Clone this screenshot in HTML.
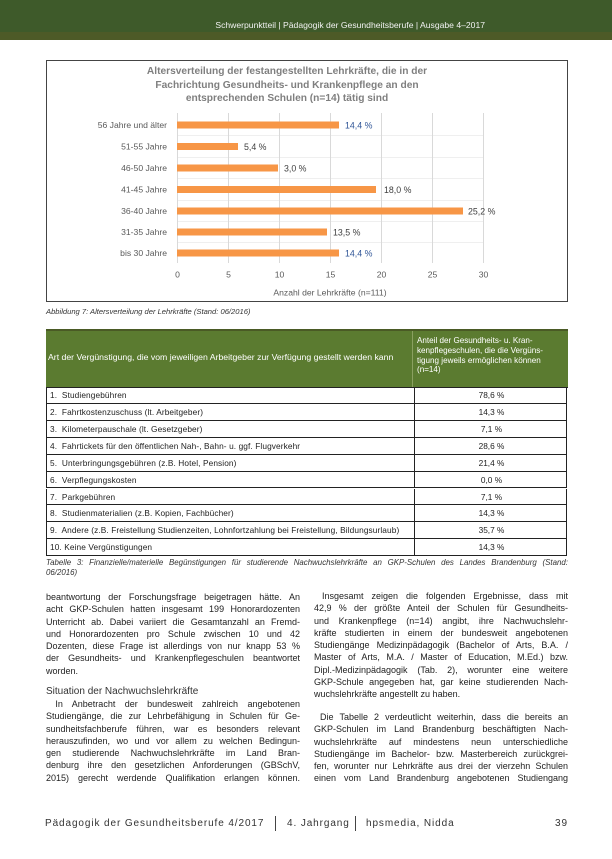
<!DOCTYPE html>
<html><head><meta charset="utf-8">
<style>
html,body{margin:0;padding:0;background:#fff;}
body{width:612px;height:859px;position:relative;overflow:hidden;font-family:"Liberation Sans",sans-serif;color:#222;}
.abs{position:absolute;}
.hdr{left:0;top:0;width:612px;height:32px;background:#3e5a2a;}
.hdr2{left:0;top:32px;width:612px;height:8px;background:#4d5a27;}
.hdrtxt{right:127px;top:19px;font-size:8.6px;color:#f2f2f2;white-space:nowrap;line-height:12px;}
.cap{font-style:italic;font-size:7.6px;color:#333;white-space:nowrap;line-height:10px;}
.row{position:absolute;left:46px;width:521px;height:16.9px;border:1px solid #222;border-top:none;box-sizing:border-box;font-size:8.3px;line-height:16px;color:#222;}
.row .l{position:absolute;left:3px;top:0;white-space:nowrap;letter-spacing:0.1px;}
.row .r{position:absolute;left:367px;width:153px;top:0;text-align:center;border-left:1px solid #222;height:16px;}
.col{position:absolute;font-size:9px;line-height:12.3px;color:#222;}
.col div{white-space:nowrap;text-align:justify;text-align-last:justify;height:12.3px;overflow:visible;}
.col div.e{text-align-last:left;}
.foot{font-size:10px;letter-spacing:0.9px;color:#333;white-space:nowrap;line-height:12px;}
</style></head>
<body>
<div class="abs hdr"></div>
<div class="abs hdr2"></div>
<div class="abs hdrtxt">Schwerpunktteil | Pädagogik der Gesundheitsberufe | Ausgabe 4–2017</div>

<svg class="abs" style="left:0;top:0" width="612" height="310" xmlns="http://www.w3.org/2000/svg" font-family="Liberation Sans, sans-serif">
  <rect x="46.5" y="60.5" width="521" height="241" fill="#fff" stroke="#444" stroke-width="1"/>
  <g font-size="10.2" font-weight="bold" fill="#7f7f7f" text-anchor="middle">
    <text x="287" y="74">Altersverteilung der festangestellten Lehrkräfte, die in der</text>
    <text x="287" y="88">Fachrichtung Gesundheits- und Krankenpflege an den</text>
    <text x="287" y="101">entsprechenden Schulen (n=14) tätig sind</text>
  </g>
  <g stroke="#efefef" stroke-width="1">
    <line x1="177" y1="135.5" x2="483" y2="135.5"/>
    <line x1="177" y1="157.5" x2="483" y2="157.5"/>
    <line x1="177" y1="178.5" x2="483" y2="178.5"/>
    <line x1="177" y1="200.5" x2="483" y2="200.5"/>
    <line x1="177" y1="221.5" x2="483" y2="221.5"/>
    <line x1="177" y1="242.5" x2="483" y2="242.5"/>
  </g>
  <g stroke="#d9d9d9" stroke-width="1">
    <line x1="177.5" y1="113" x2="177.5" y2="263"/>
    <line x1="228.5" y1="113" x2="228.5" y2="263"/>
    <line x1="279.5" y1="113" x2="279.5" y2="263"/>
    <line x1="330.5" y1="113" x2="330.5" y2="263"/>
    <line x1="381.5" y1="113" x2="381.5" y2="263"/>
    <line x1="432.5" y1="113" x2="432.5" y2="263"/>
    <line x1="483.5" y1="113" x2="483.5" y2="263"/>
  </g>
  <g fill="#f79646">
    <rect x="177" y="121.5" width="162" height="7"/>
    <rect x="177" y="143" width="61" height="7"/>
    <rect x="177" y="164.5" width="101" height="7"/>
    <rect x="177" y="186" width="199" height="7"/>
    <rect x="177" y="207.5" width="286" height="7"/>
    <rect x="177" y="228.5" width="150" height="7"/>
    <rect x="177" y="249.5" width="162" height="7"/>
  </g>
  <g font-size="8.6" fill="#595959" text-anchor="end">
    <text x="167" y="128">56 Jahre und älter</text>
    <text x="167" y="149.5">51-55 Jahre</text>
    <text x="167" y="171">46-50 Jahre</text>
    <text x="167" y="192.5">41-45 Jahre</text>
    <text x="167" y="214">36-40 Jahre</text>
    <text x="167" y="235">31-35 Jahre</text>
    <text x="167" y="256">bis 30 Jahre</text>
  </g>
  <g font-size="8.8" fill="#404040">
    <text x="345" y="128.5" fill="#2f5597">14,4 %</text>
    <text x="244" y="150">5,4 %</text>
    <text x="284" y="171.5">3,0 %</text>
    <text x="384" y="193">18,0 %</text>
    <text x="468" y="214.5">25,2 %</text>
    <text x="333" y="235.5">13,5 %</text>
    <text x="345" y="256.5" fill="#2f5597">14,4 %</text>
  </g>
  <g font-size="8.6" fill="#595959" text-anchor="middle">
    <text x="177.5" y="277.5">0</text>
    <text x="228.5" y="277.5">5</text>
    <text x="279.5" y="277.5">10</text>
    <text x="330.5" y="277.5">15</text>
    <text x="381.5" y="277.5">20</text>
    <text x="432.5" y="277.5">25</text>
    <text x="483.5" y="277.5">30</text>
    <text x="330" y="295.5">Anzahl der Lehrkräfte (n=111)</text>
  </g>
</svg>

<div class="abs cap" style="left:46px;top:307px;">Abbildung 7: Altersverteilung der Lehrkräfte (Stand: 06/2016)</div>

<!-- Table -->
<div class="abs" style="left:46px;top:329px;width:522px;height:2px;background:#4a5a25;"></div>
<div class="abs" style="left:46px;top:331px;width:522px;height:56px;background:#5b7b30;"></div>
<div class="abs" style="left:412px;top:331px;width:1px;height:56px;background:#8aa060;"></div>
<div class="abs" style="left:48px;top:352px;font-size:8.7px;color:#fff;white-space:nowrap;line-height:10px;">Art der Vergünstigung, die vom jeweiligen Arbeitgeber zur Verfügung gestellt werden kann</div>
<div class="abs" style="left:417px;top:336px;font-size:8.1px;color:#fff;line-height:9.8px;white-space:nowrap;">Anteil der Gesundheits- u. Kran-<br>kenpflegeschulen, die die Vergüns-<br>tigung jeweils ermöglichen können<br>(n=14)</div>
<div class="abs" style="left:46px;top:387px;width:522px;height:1px;background:#222;"></div>

<div class="row" style="top:387px;"><span class="l">1.&nbsp; Studiengebühren</span><span class="r">78,6 %</span></div>
<div class="row" style="top:404px;"><span class="l">2.&nbsp; Fahrtkostenzuschuss (lt. Arbeitgeber)</span><span class="r">14,3 %</span></div>
<div class="row" style="top:421px;"><span class="l">3.&nbsp; Kilometerpauschale (lt. Gesetzgeber)</span><span class="r">7,1 %</span></div>
<div class="row" style="top:437.8px;"><span class="l">4.&nbsp; Fahrtickets für den öffentlichen Nah-, Bahn- u. ggf. Flugverkehr</span><span class="r">28,6 %</span></div>
<div class="row" style="top:454.7px;"><span class="l">5.&nbsp; Unterbringungsgebühren (z.B. Hotel, Pension)</span><span class="r">21,4 %</span></div>
<div class="row" style="top:471.6px;"><span class="l">6.&nbsp; Verpflegungskosten</span><span class="r">0,0 %</span></div>
<div class="row" style="top:488.5px;"><span class="l">7.&nbsp; Parkgebühren</span><span class="r">7,1 %</span></div>
<div class="row" style="top:505.4px;"><span class="l">8.&nbsp; Studienmaterialien (z.B. Kopien, Fachbücher)</span><span class="r">14,3 %</span></div>
<div class="row" style="top:522.3px;"><span class="l">9.&nbsp; Andere (z.B. Freistellung Studienzeiten, Lohnfortzahlung bei Freistellung, Bildungsurlaub)</span><span class="r">35,7 %</span></div>
<div class="row" style="top:539.2px;"><span class="l">10. Keine Vergünstigungen</span><span class="r">14,3 %</span></div>

<div class="abs cap" style="left:46px;top:558px;width:522px;font-size:7.9px;text-align:justify;text-align-last:justify;">Tabelle 3: Finanzielle/materielle Begünstigungen für studierende Nachwuchslehrkräfte an GKP-Schulen des Landes Brandenburg (Stand:</div>
<div class="abs cap" style="left:46px;top:568px;font-size:7.9px;">06/2016)</div>

<!-- Left column -->
<div class="col" style="left:46px;top:591px;width:254px;">
<div>beantwortung der Forschungsfrage beigetragen hätte. An</div>
<div>acht GKP-Schulen hatten insgesamt 199 Honorardozenten</div>
<div>Unterricht ab. Dabei variiert die Gesamtanzahl an Fremd-</div>
<div>und Honorardozenten pro Schule zwischen 10 und 42</div>
<div>Dozenten, diese Frage ist allerdings von nur knapp 53 %</div>
<div>der Gesundheits- und Krankenpflegeschulen beantwortet</div>
<div class="e">worden.</div>
</div>
<div class="abs" style="left:46px;top:685px;font-size:10px;color:#333;white-space:nowrap;line-height:13px;">Situation der Nachwuchslehrkräfte</div>
<div class="col" style="left:46px;top:698px;width:254px;">
<div>&nbsp;In Anbetracht der bundesweit zahlreich angebotenen</div>
<div>Studiengänge, die zur Lehrbefähigung in Schulen für Ge-</div>
<div>sundheitsfachberufe führen, war es besonders relevant</div>
<div>herauszufinden, wo und vor allem zu welchen Bedingun-</div>
<div>gen studierende Nachwuchslehrkräfte im Land Bran-</div>
<div>denburg ihre den gesetzlichen Anforderungen (GBSchV,</div>
<div>2015) gerecht werdende Qualifikation erlangen können.</div>
</div>

<!-- Right column -->
<div class="col" style="left:314px;top:590px;width:254px;">
<div>&nbsp;Insgesamt zeigen die folgenden Ergebnisse, dass mit</div>
<div>42,9 % der größte Anteil der Schulen für Gesundheits-</div>
<div>und Krankenpflege (n=14) angibt, ihre Nachwuchslehr-</div>
<div>kräfte studierten in einem der bundesweit angebotenen</div>
<div>Studiengänge Medizinpädagogik (Bachelor of Arts, B.A. /</div>
<div>Master of Arts, M.A. / Master of Education, M.Ed.) bzw.</div>
<div>Dipl.-Medizinpädagogik (Tab. 2), worunter eine weitere</div>
<div>GKP-Schule angegeben hat, gar keine studierenden Nach-</div>
<div class="e">wuchslehrkräfte angestellt zu haben.</div>
</div>
<div class="col" style="left:314px;top:711px;width:254px;">
<div>&nbsp;Die Tabelle 2 verdeutlicht weiterhin, dass die bereits an</div>
<div>GKP-Schulen im Land Brandenburg beschäftigten Nach-</div>
<div>wuchslehrkräfte auf mindestens neun unterschiedliche</div>
<div>Studiengänge im Bachelor- bzw. Masterbereich zurückgrei-</div>
<div>fen, worunter nur Lehrkräfte aus drei der vierzehn Schulen</div>
<div>einen vom Land Brandenburg angebotenen Studiengang</div>
</div>

<!-- Footer -->
<div class="abs foot" style="left:45px;top:818px;">Pädagogik der Gesundheitsberufe 4/2017</div>
<div class="abs" style="left:275px;top:816px;width:1px;height:15px;background:#444;"></div>
<div class="abs foot" style="left:287px;top:818px;">4. Jahrgang</div>
<div class="abs" style="left:355px;top:816px;width:1px;height:15px;background:#444;"></div>
<div class="abs foot" style="left:366px;top:818px;">hpsmedia, Nidda</div>
<div class="abs foot" style="left:555px;top:818px;">39</div>
</body></html>
